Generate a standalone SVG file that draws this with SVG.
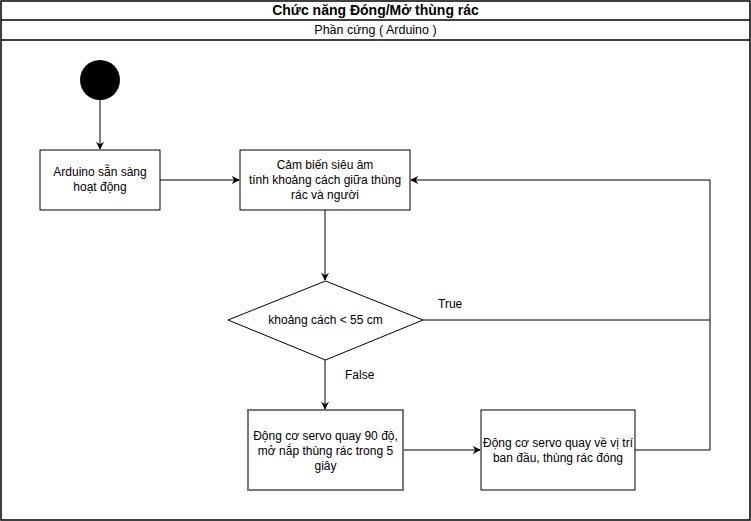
<svg xmlns="http://www.w3.org/2000/svg" width="751" height="521" viewBox="0 0 751 521">
<style>
text{font-family:"Liberation Sans",Arial,sans-serif;font-size:12px;fill:#000}
.c{text-anchor:middle}
.box{fill:#fff;stroke:#000;stroke-width:1}
.ln{fill:none;stroke:#000;stroke-width:1}
</style>
<defs>
<marker id="ah" viewBox="0 0 10 10" refX="9" refY="5" markerWidth="8" markerHeight="8" markerUnits="userSpaceOnUse" orient="auto">
<path d="M0,0 L10,5 L0,10 L3,5 Z" fill="#000"/>
</marker>
</defs>
<rect width="751" height="521" fill="#fff"/>
<g id="frame">
<rect x="1" y="1" width="749" height="519" fill="none" stroke="#000" stroke-width="1.5"/>
<line x1="1" y1="20" x2="750" y2="20" stroke="#000" stroke-width="1.5"/>
<line x1="1" y1="40" x2="750" y2="40" stroke="#000" stroke-width="1.5"/>
<text x="375.5" y="15" class="c" style="font-weight:bold;font-size:14px">Chức năng Đóng/Mở thùng rác</text>
<text x="375.5" y="34" class="c" style="font-size:12.5px">Phần cứng ( Arduino )</text>
</g>
<g id="connectors">
<line class="ln" x1="100" y1="100" x2="100" y2="149" marker-end="url(#ah)"/>
<line class="ln" x1="160" y1="180" x2="239" y2="180" marker-end="url(#ah)"/>
<line class="ln" x1="325" y1="210" x2="325" y2="280" marker-end="url(#ah)"/>
<polyline class="ln" points="423,320 710,320"/>
<polyline class="ln" points="635,450 710,450 710,180 411,180" marker-end="url(#ah)"/>
<line class="ln" x1="325" y1="360" x2="325" y2="409" marker-end="url(#ah)"/>
<line class="ln" x1="403" y1="450" x2="480" y2="450" marker-end="url(#ah)"/>
<text x="438" y="308">True</text>
<text x="345" y="379">False</text>
</g>
<g id="start"><circle cx="100" cy="80" r="20" fill="#000"/></g>
<g id="arduino">
<rect class="box" x="40" y="150" width="120" height="60"/>
<text x="100" y="176" class="c">Arduino sẵn sàng</text>
<text x="100" y="191" class="c">hoạt động</text>
</g>
<g id="sensor">
<rect class="box" x="240" y="150" width="170" height="60"/>
<text x="325" y="169" class="c">Cảm biến siêu âm</text>
<text x="325" y="184" class="c">tính khoảng cách giữa thùng</text>
<text x="325" y="199" class="c">rác và người</text>
</g>
<g id="decision">
<polygon points="325.5,281 423,320 325.5,360 228,320" fill="#fff" stroke="#000"/>
<text x="325.5" y="324" class="c">khoảng cách &lt; 55 cm</text>
</g>
<g id="open">
<rect x="248" y="410" width="155" height="80" fill="#fff" stroke="#777" stroke-width="2"/>
<text x="325.5" y="440" class="c">Động cơ servo quay 90 độ,</text>
<text x="325.5" y="455" class="c">mở nắp thùng rác trong 5</text>
<text x="325.5" y="470" class="c">giây</text>
</g>
<g id="close">
<rect class="box" x="481" y="410" width="154" height="80"/>
<text x="558" y="447" class="c">Động cơ servo quay về vị trí</text>
<text x="558" y="462" class="c">ban đầu, thùng rác đóng</text>
</g>
</svg>
